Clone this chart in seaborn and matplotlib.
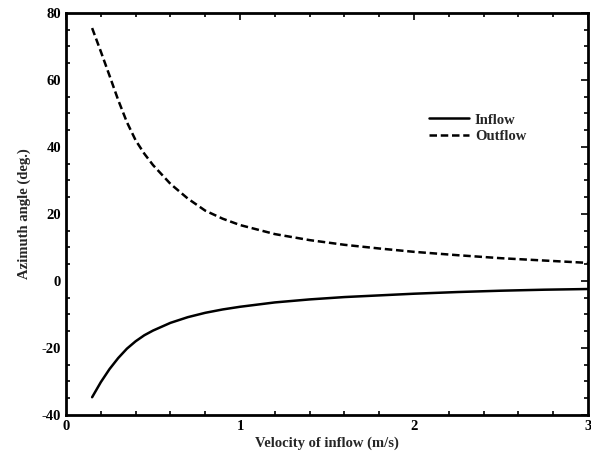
import matplotlib
matplotlib.use("Agg")
import matplotlib.pyplot as plt
import seaborn as sns
import pandas as pd
from matplotlib.ticker import MultipleLocator

velocity = [0.15, 0.2, 0.25, 0.3, 0.35, 0.4, 0.45, 0.5, 0.6, 0.7, 0.8, 0.9, 1.0,
            1.2, 1.4, 1.6, 1.8, 2.0, 2.25, 2.5, 2.75, 3.0]
inflow = [-34.7, -30.2, -26.3, -23.0, -20.2, -18.0, -16.2, -14.8, -12.5, -10.8, -9.5, -8.5, -7.7,
          -6.4, -5.5, -4.8, -4.3, -3.8, -3.3, -2.9, -2.6, -2.4]
outflow = [75.5, 68.5, 61.3, 54.0, 47.4, 42.0, 38.0, 34.6, 29.0, 24.6, 21.0, 18.6, 16.7,
           14.0, 12.2, 10.8, 9.7, 8.7, 7.7, 6.8, 6.1, 5.4]

sns.set_theme(style="white")
plt.rcParams['font.family'] = ['Liberation Serif', 'DejaVu Serif']
plt.rcParams['font.weight'] = 'bold'
plt.rcParams['axes.unicode_minus'] = False

df = pd.DataFrame({
    "v": velocity * 2,
    "angle": inflow + outflow,
    "series": ["Inflow"] * len(velocity) + ["Outflow"] * len(velocity),
})

fig = plt.figure(figsize=(5.91, 4.59), dpi=100)
ax = fig.add_axes([0.1117, 0.0959, 0.8833, 0.8758])

sns.lineplot(data=df, x="v", y="angle", style="series",
             dashes={"Inflow": "", "Outflow": (3, 1.5)},
             color="black", linewidth=1.8, ax=ax)

ax.set_xlim(0, 3)
ax.set_ylim(-40, 80)
ax.xaxis.set_major_locator(MultipleLocator(1))
ax.xaxis.set_minor_locator(MultipleLocator(0.2))
ax.yaxis.set_major_locator(MultipleLocator(20))
ax.yaxis.set_minor_locator(MultipleLocator(5))
ax.tick_params(which='both', direction='in', top=True, right=True, colors='black',
               labelsize=10.5, width=1.2)
ax.tick_params(which='major', length=5)
ax.tick_params(which='minor', length=3, bottom=True, left=True)
for lab in ax.get_xticklabels() + ax.get_yticklabels():
    lab.set_fontweight('bold')
for s in ax.spines.values():
    s.set_color('black')
    s.set_linewidth(2)

ax.set_xlabel("Velocity of inflow (m/s)", fontsize=10.5, fontweight='bold', labelpad=3)
ax.set_ylabel("Azimuth angle (deg.)", fontsize=10.5, fontweight='bold', labelpad=8)

leg = ax.legend(loc='upper left', bbox_to_anchor=(0.67, 0.783), frameon=False,
                fontsize=10.5, handlelength=2.75, handletextpad=0.4, labelspacing=0.25)
for t in leg.get_texts():
    t.set_fontweight('bold')

fig.savefig("out.png", dpi=100)
